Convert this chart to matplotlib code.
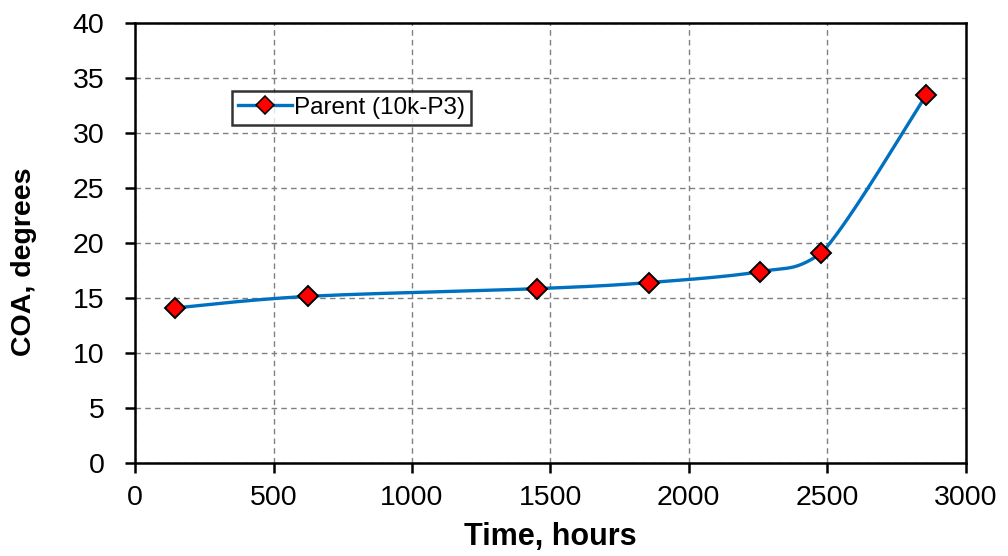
import numpy as np
import matplotlib.pyplot as plt

plt.rcParams['font.family'] = ['Liberation Sans', 'DejaVu Sans']

# data
time_h = [145, 625, 1450, 1855, 2258, 2478, 2858]
coa_deg = [14.1, 15.15, 15.85, 16.4, 17.4, 19.05, 33.45]
series_name = "Parent (10k-P3)"


def smooth_curve(x, y, sx, sy, n=40):
    # smoothed line like Excel: Bezier segments with Catmull-Rom control points,
    # control point heights kept inside each segment so the line does not dip
    px = np.asarray(x, float) * sx
    py = np.asarray(y, float) * sy
    P = np.column_stack([px, py])
    P = np.vstack([P[0], P, P[-1]])
    out = []
    t = np.linspace(0, 1, n)[:, None]
    for i in range(1, len(P) - 2):
        p0, p1, p2, p3 = P[i - 1], P[i], P[i + 1], P[i + 2]
        c1 = p1 + (p2 - p0) / 6
        c2 = p2 - (p3 - p1) / 6
        lo, hi = min(p1[1], p2[1]), max(p1[1], p2[1])
        c1[1] = np.clip(c1[1], lo, hi)
        c2[1] = np.clip(c2[1], lo, hi)
        seg = ((1 - t) ** 3) * p1 + 3 * ((1 - t) ** 2) * t * c1 + 3 * (1 - t) * t ** 2 * c2 + t ** 3 * p2
        out.append(seg)
    out = np.vstack(out)
    return out[:, 0] / sx, out[:, 1] / sy


fig = plt.figure(figsize=(10.08, 5.56), dpi=100)
ax = fig.add_axes([0.134, 0.167, 0.824, 0.792])

cx, cy = smooth_curve(time_h, coa_deg, 830 / 3000, 440 / 40)
ax.plot(cx, cy, color='#0070C0', lw=2.4, zorder=3)
ax.plot(time_h, coa_deg, linestyle='none', marker='D', markersize=10,
        markerfacecolor='#FF0000', markeredgecolor='black', markeredgewidth=1.4, zorder=4)
# proxy for legend (line + marker)
ax.plot([], [], color='#0070C0', lw=2.4, marker='D', markersize=9,
        markerfacecolor='#FF0000', markeredgecolor='black', markeredgewidth=1.1, label=series_name)

ax.set_xlim(0, 3000)
ax.set_ylim(0, 40)
ax.set_xticks(np.arange(0, 3001, 500))
ax.set_yticks(np.arange(0, 41, 5))
ax.grid(True, color='#808080', linestyle=(0, (4, 3)), linewidth=1.0)
ax.set_axisbelow(True)

for s in ax.spines.values():
    s.set_linewidth(1.8)
ax.tick_params(direction='out', length=7, width=1.8, labelsize=20.5)
ax.tick_params(axis='x', pad=9)
ax.tick_params(axis='y', pad=15)

ax.set_xlabel('Time, hours', fontsize=22, fontweight='bold', labelpad=8)
ax.set_ylabel('COA, degrees', fontsize=20.5, fontweight='bold')
ax.yaxis.set_label_coords(-0.118, 0.457)

leg = ax.legend(loc='upper left', bbox_to_anchor=(0.117, 0.846), fontsize=17.5,
                frameon=True, fancybox=False, borderpad=0.25, handlelength=2.2,
                handletextpad=0.1, borderaxespad=0)
leg.get_frame().set_edgecolor('black')
leg.get_frame().set_linewidth(1.8)

fig.savefig('out.png', dpi=100)
